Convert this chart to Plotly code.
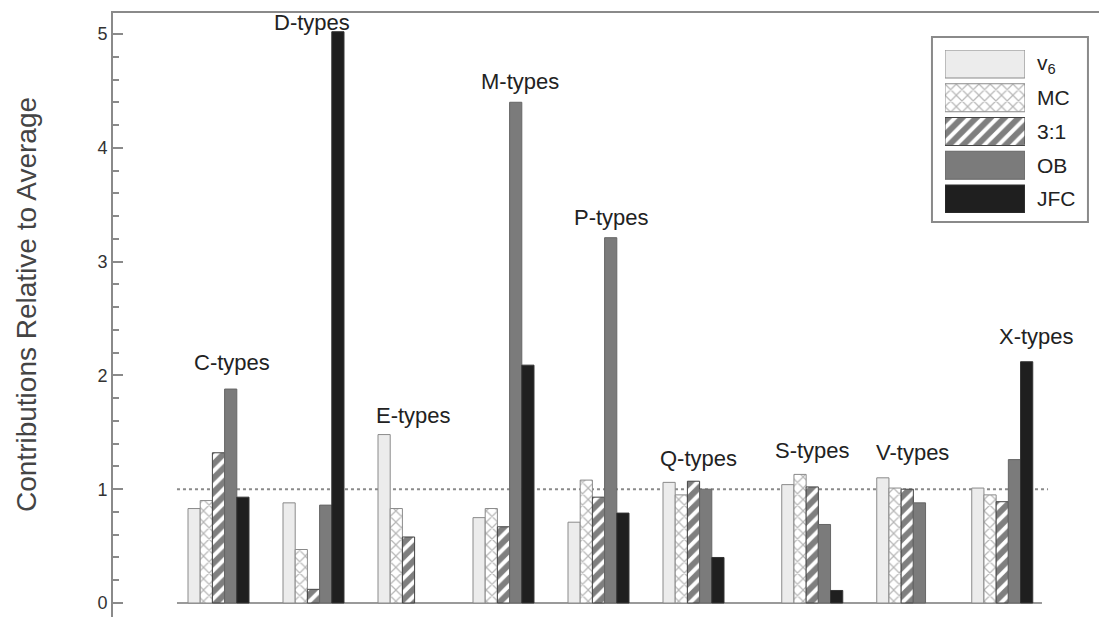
import plotly.graph_objects as go

# ---------------- data ----------------
categories = ["C-types", "D-types", "E-types", "M-types", "P-types",
              "Q-types", "S-types", "V-types", "X-types"]
series_names = ["v<sub>6</sub>", "MC", "3:1", "OB", "JFC"]
v6 = [0.83, 0.88, 1.48, 0.75, 0.71, 1.06, 1.04, 1.10, 1.01]
mc = [0.90, 0.47, 0.83, 0.83, 1.08, 0.95, 1.13, 1.01, 0.95]
r31 = [1.32, 0.12, 0.58, 0.67, 0.93, 1.07, 1.02, 1.00, 0.89]
ob = [1.88, 0.86, None, 4.40, 3.21, 1.00, 0.69, 0.88, 1.26]
jfc = [0.93, 5.02, None, 2.09, 0.79, 0.40, 0.11, None, 2.12]
average_level = 1.0
y_ticks = [0, 1, 2, 3, 4, 5]

# ---------------- layout constants ----------------
group_pos = [0, 1, 2, 3, 4, 5, 6.25, 7.25, 8.25]
label_dx = [0.14, -0.02, 0.05, 0.17, 0.14, 0.05, 0.0, 0.06, 0.36]
label_y = [2.11, 5.10, 1.65, 4.58, 3.39, 1.27, 1.34, 1.32, 2.34]

FONT = "Liberation Sans, Arial, Helvetica, sans-serif"
OUT = "#8a8a8a"

styles = [
    dict(color="#ececec", line=dict(color=OUT, width=1)),
    dict(color="white", line=dict(color=OUT, width=1),
         pattern=dict(shape="x", fgcolor="#6e6e6e", bgcolor="white", size=8, solidity=0.28)),
    dict(color="white", line=dict(color="#444", width=1),
         pattern=dict(shape="/", fgcolor="#000", bgcolor="white", size=10, solidity=0.6)),
    dict(color="#7b7b7b", line=dict(color="#666", width=1)),
    dict(color="#1f1f1f", line=dict(color="#333", width=1)),
]
values = [v6, mc, r31, ob, jfc]

fig = go.Figure()
for name, vals, st in zip(series_names, values, styles):
    fig.add_trace(go.Bar(x=group_pos, y=vals, name=name, marker=st,
                         showlegend=False, xaxis="x", yaxis="y"))

# legend drawn in an inset axis so swatches can be large and patterned
for i, (name, st) in enumerate(zip(series_names, styles)):
    fig.add_trace(go.Bar(x=[1], y=[i], orientation="h", marker=st,
                         width=0.8296, offset=-0.4148, showlegend=False,
                         xaxis="x2", yaxis="y2", hoverinfo="skip"))
    fig.add_annotation(text=name, xref="paper", yref="y2", x=0.9351, y=i,
                       xanchor="left", yanchor="middle", showarrow=False,
                       font=dict(size=21, color="#222", family=FONT))

# group labels
for cat, gp, dx, ly in zip(categories, group_pos, label_dx, label_y):
    fig.add_annotation(text=cat, x=gp + dx, y=ly, xref="x", yref="y",
                       showarrow=False, xanchor="center", yanchor="middle",
                       font=dict(size=22, color="#222", family=FONT))

# y title
fig.add_annotation(text="Contributions Relative to Average", textangle=-90,
                   xref="paper", yref="paper", x=-0.0872, y=0.5166,
                   xanchor="center", yanchor="middle", showarrow=False,
                   font=dict(size=28, color="#444", family=FONT))

# baseline and average line
fig.add_shape(type="line", xref="x", yref="y", x0=-0.437, x1=8.668, y0=0, y1=0,
              line=dict(color="#9a9a9a", width=2), layer="below")
fig.add_shape(type="line", xref="x", yref="y", x0=-0.437, x1=8.732,
              y0=average_level, y1=average_level,
              line=dict(color="#8a8a8a", width=2, dash="dot"), layer="below")
# legend frame
fig.add_shape(type="rect", xref="paper", yref="paper", x0=0.8306, x1=0.9888,
              y0=0.654, y1=0.9603, line=dict(color="#8a8a8a", width=2),
              fillcolor="white", layer="below")

fig.update_layout(
    width=1099, height=622,
    margin=dict(l=113, r=0, t=13, b=5),
    paper_bgcolor="white", plot_bgcolor="white",
    barmode="group", bargap=0.358, bargroupgap=0,
    font=dict(family=FONT),
    xaxis=dict(range=[-1.1105, 9.2684], side="top", showline=True,
               linecolor="#8a8a8a", linewidth=2, showticklabels=False,
               ticks="", showgrid=False, zeroline=False, fixedrange=True),
    yaxis=dict(range=[-0.1231, 5.1845], showline=True, linecolor="#8a8a8a",
               linewidth=2, tickvals=y_ticks, ticks="inside", ticklen=10,
               tickwidth=1.5, tickcolor="#8a8a8a",
               minor=dict(dtick=0.2, ticks="inside", ticklen=6,
                          tickcolor="#8a8a8a", tickwidth=1.5),
               tickfont=dict(size=18, color="#333", family=FONT),
               showgrid=False, zeroline=False),
    xaxis2=dict(domain=[0.8438, 0.9249], range=[0, 1], anchor="y2",
                visible=False, fixedrange=True),
    yaxis2=dict(domain=[0.6689, 0.9387], range=[4.4148, -0.4148], anchor="x2",
                visible=False, fixedrange=True),
    showlegend=False,
)

fig.write_html("out.html", config={"displayModeBar": False},
               post_script="document.body.style.margin='0';")
